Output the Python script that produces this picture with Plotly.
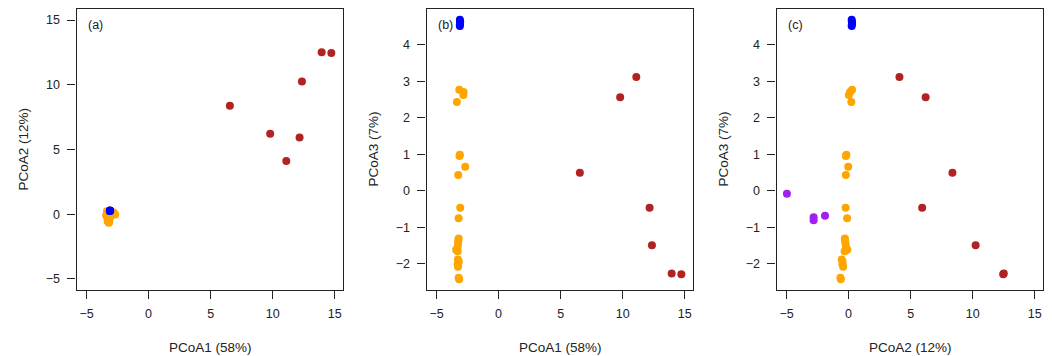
import plotly.graph_objects as go

# ---- data ----
red_pc1 = [6.55, 9.80, 11.10, 12.17, 12.36, 13.95, 14.73]
red_pc2 = [8.37, 6.21, 4.10, 5.93, 10.24, 12.51, 12.46]
red_pc3 = [0.50, 2.57, 3.12, -0.46, -1.49, -2.26, -2.28]

orange_pc1 = [-3.17, -2.82, -2.84, -3.36, -3.12, -3.15, -2.69, -3.25, -3.09, -3.22, -3.22,
              -3.25, -3.27, -3.30, -3.42, -3.30, -3.28, -3.20, -3.30, -3.27, -3.22, -3.18]
orange_pc2 = [0.28, 0.12, 0.02, 0.22, -0.18, -0.22, -0.03, -0.22, -0.24, -0.12, -0.30,
              -0.28, -0.25, -0.22, -0.10, -0.32, -0.55, -0.48, -0.50, -0.44, -0.66, -0.62]
orange_pc3 = [2.77, 2.71, 2.63, 2.44, 0.99, 0.96, 0.66, 0.44, -0.46, -0.75, -1.30,
              -1.36, -1.44, -1.53, -1.61, -1.65, -1.88, -1.94, -2.01, -2.08, -2.38, -2.42]

blue_pc1 = [-3.12, -3.12, -3.10, -3.10, -3.12]
blue_pc2 = [0.25, 0.27, 0.28, 0.26, 0.25]
blue_pc3 = [4.52, 4.57, 4.61, 4.65, 4.69]

purple_pc2 = [-4.97, -2.82, -2.82, -1.90]
purple_pc3 = [-0.08, -0.72, -0.80, -0.68]

x_ticks = [-5, 0, 5, 10, 15]
y_ticks_a = [-5, 0, 5, 10, 15]
y_ticks_bc = [-2, -1, 0, 1, 2, 3, 4]

panel_labels = ["(a)", "(b)", "(c)"]
x_titles = ["PCoA1 (58%)", "PCoA1 (58%)", "PCoA2 (12%)"]
y_titles = ["PCoA2 (12%)", "PCoA3 (7%)", "PCoA3 (7%)"]

RED = "#B22222"
ORANGE = "#FFA500"
BLUE = "#0000FF"
PURPLE = "#A020F0"
TXT = "#222222"
FONT = "Liberation Sans, Arial, sans-serif"

# page body has an 8px margin: figure is drawn offset by (8, 8)
OFF = 8
W, H = 1052 - OFF, 356 - OFF


def px(x):
    return (x - OFF) / W


def py(y):
    return 1 - (y - OFF) / H


x_domains = [(px(76.5), px(343)), (px(426.5), px(693)), (px(776.5), px(1043))]
y_domain = (py(289.5), py(9))

fig = go.Figure()


def add(x, y, color, ax):
    fig.add_trace(go.Scatter(
        x=x, y=y, mode="markers",
        marker=dict(color=color, size=8, line=dict(width=0)),
        xaxis="x" + ax, yaxis="y" + ax, showlegend=False, hoverinfo="x+y"))


# panel (a): PCoA1 vs PCoA2
add(red_pc1, red_pc2, RED, "")
add(orange_pc1, orange_pc2, ORANGE, "")
add(blue_pc1, blue_pc2, BLUE, "")
# panel (b): PCoA1 vs PCoA3
add(red_pc1, red_pc3, RED, "2")
add(orange_pc1, orange_pc3, ORANGE, "2")
add(blue_pc1, blue_pc3, BLUE, "2")
# panel (c): PCoA2 vs PCoA3
add(red_pc2, red_pc3, RED, "3")
add(orange_pc2, orange_pc3, ORANGE, "3")
add(blue_pc2, blue_pc3, BLUE, "3")
add(purple_pc2, purple_pc3, PURPLE, "3")

common = dict(showgrid=False, zeroline=False, showline=True, mirror=True,
              linecolor=TXT, linewidth=1.2, ticks="outside", ticklen=8,
              tickwidth=1, tickcolor=TXT,
              tickfont=dict(family=FONT, size=12.5, color=TXT))

layout = dict(width=W, height=H, margin=dict(l=0, r=0, t=0, b=0),
              paper_bgcolor="white", plot_bgcolor="white", showlegend=False,
              font=dict(family=FONT, color=TXT))

x_range = [-5.81, 15.67]
y_ranges = [[-5.82, 15.85], [-2.70, 4.985], [-2.70, 4.985]]
y_tick_sets = [y_ticks_a, y_ticks_bc, y_ticks_bc]

annotations = []
for i in range(3):
    suf = "" if i == 0 else str(i + 1)
    layout["xaxis" + suf] = dict(common, domain=list(x_domains[i]), range=x_range,
                                 tickvals=x_ticks, anchor="y" + suf, ticklabelstandoff=4)
    layout["yaxis" + suf] = dict(common, domain=list(y_domain), range=y_ranges[i],
                                 tickvals=y_tick_sets[i], anchor="x" + suf, ticklabelstandoff=5)
    left = [77, 427, 777][i]
    # panel label
    annotations.append(dict(text=panel_labels[i], xref="paper", yref="paper",
                            x=px(left + 9), y=py(24.5), xanchor="left", yanchor="middle",
                            showarrow=False, font=dict(family=FONT, size=12.5, color=TXT)))
    # x title
    annotations.append(dict(text=x_titles[i], xref="paper", yref="paper",
                            x=px(left + 133), y=py(347.5), xanchor="center", yanchor="middle",
                            showarrow=False, font=dict(family=FONT, size=13.5, color=TXT)))
    # y title
    annotations.append(dict(text=y_titles[i], xref="paper", yref="paper",
                            x=px(left - 54), y=py(149.5),
                            xanchor="center", yanchor="middle", textangle=-90,
                            showarrow=False, font=dict(family=FONT, size=13.5, color=TXT)))

layout["annotations"] = annotations
fig.update_layout(**layout)
fig.write_html("out.html")
